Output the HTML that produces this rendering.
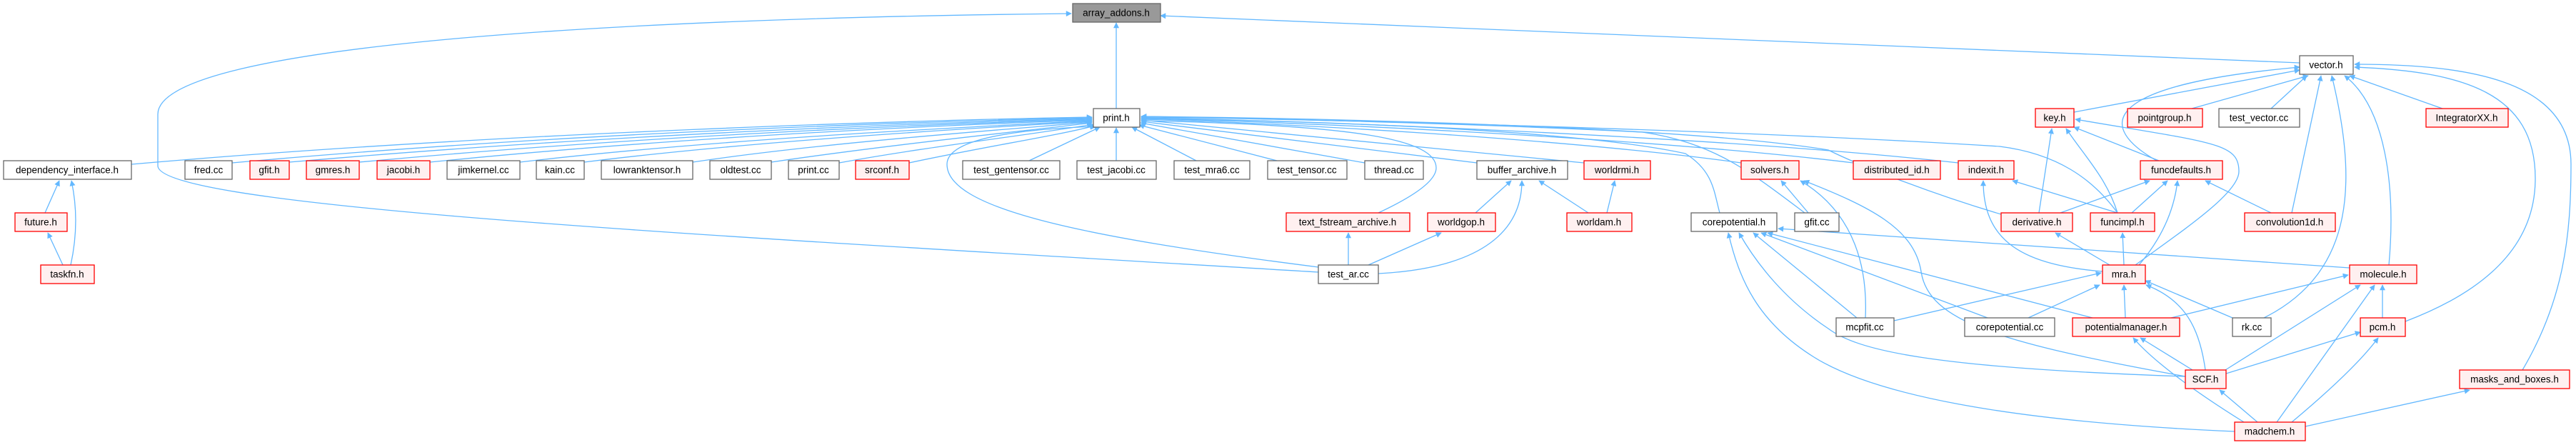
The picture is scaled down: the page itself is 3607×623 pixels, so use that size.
<!DOCTYPE html>
<html><head><meta charset="utf-8"><style>
html,body{margin:0;padding:0;background:#fff;}
svg{display:block;}
text{font-family:"Liberation Sans",sans-serif;font-size:13.5px;fill:#000;text-anchor:middle;dominant-baseline:central;}
.e{fill:none;stroke:#63b8ff;stroke-width:1.3;marker-end:url(#a);}
.n rect{fill:#fff;stroke:#666;stroke-width:1.3;}
.r rect{fill:#fff0f0;stroke:#ff0000;stroke-width:1.3;}
</style></head><body>
<svg width="3607" height="623" viewBox="0 0 3607 623" xmlns="http://www.w3.org/2000/svg">
<defs><marker id="a" viewBox="0 0 10 10" refX="9" refY="5" markerWidth="10" markerHeight="8" markerUnits="userSpaceOnUse" orient="auto"><path d="M0,0 L10,5 L0,10 z" fill="#63b8ff"/></marker></defs>
<g>
<!-- to array_addons -->
<path class="e" d="M1563,152 L1563,32"/>
<path class="e" d="M3220,88 L1625,22"/>
<path class="e" d="M1846,381 C1000,330 221,290 221,232 L221,160 C221,60 900,25 1500,19"/>
<!-- to print.h -->
<path class="e" d="M184,230 C700,185 1300,168 1529,164"/>
<path class="e" d="M325,228 C800,185 1300,170 1529,165"/>
<path class="e" d="M405,227 C850,188 1300,172 1529,166"/>
<path class="e" d="M503,227 C900,190 1300,174 1529,167"/>
<path class="e" d="M602,227 C950,192 1300,176 1529,168"/>
<path class="e" d="M728,227 C1000,195 1350,178 1529,169"/>
<path class="e" d="M818,227 C1050,198 1350,180 1529,170"/>
<path class="e" d="M970,227 C1150,200 1400,182 1529,171"/>
<path class="e" d="M1080,227 C1250,202 1420,185 1529,172"/>
<path class="e" d="M1175,228 C1300,205 1450,188 1530,174"/>
<path class="e" d="M1273,228 C1380,205 1480,190 1533,176"/>
<path class="e" d="M1441,225 L1540,178"/>
<path class="e" d="M1563,225 L1563,179"/>
<path class="e" d="M1675,225 L1585,178"/>
<path class="e" d="M1788,225 L1595,175"/>
<path class="e" d="M1911,228 L1597,172"/>
<path class="e" d="M2068,228 L1598,170"/>
<path class="e" d="M2218,228 L1598,168"/>
<path class="e" d="M2438,228 C2200,195 1800,172 1598,167"/>
<path class="e" d="M2595,228 C2300,192 1800,170 1598,166"/>
<path class="e" d="M2742,228 C2400,190 1800,168 1598,165"/>
<path class="e" d="M2965,298 C2930,250 2880,215 2800,205 C2400,180 1800,166 1598,164"/>
<path class="e" d="M2802,300 C2700,270 2600,230 2560,210 C2350,175 1800,165 1598,163"/>
<path class="e" d="M2527,298 C2450,240 2400,200 2300,185 C2000,170 1700,165 1598,163"/>
<path class="e" d="M2408,298 C2400,270 2400,240 2360,215 C2200,180 1800,168 1598,166"/>
<path class="e" d="M1930,298 C1990,270 2011,250 2011,235 C2011,195 1900,175 1598,169"/>
<path class="e" d="M1846,374 C1500,330 1326,290 1326,230 C1326,190 1450,180 1535,177"/>
<!-- archives -->
<path class="e" d="M1888,371 L1888,326"/>
<path class="e" d="M1916,371 L2018,326"/>
<path class="e" d="M1930,383 C2080,375 2131,320 2131,253"/>
<path class="e" d="M2066,298 L2116,253"/>
<path class="e" d="M2224,298 L2155,253"/>
<path class="e" d="M2250,298 L2261,253"/>
<!-- dependency -->
<path class="e" d="M63,298 L83,253"/>
<path class="e" d="M99,371 C108,330 108,290 100,253"/>
<path class="e" d="M88,371 L67,326"/>
<!-- vector -->
<path class="e" d="M2904,157 L3220,98"/>
<path class="e" d="M3020,225 C2940,180 2930,120 3220,94"/>
<path class="e" d="M3069,152 L3232,106"/>
<path class="e" d="M3180,152 L3230,106"/>
<path class="e" d="M3209,298 L3250,106"/>
<path class="e" d="M3420,152 L3290,106"/>
<path class="e" d="M3170,445 C3300,380 3300,250 3265,106"/>
<path class="e" d="M3345,371 C3355,260 3340,150 3283,106"/>
<path class="e" d="M3368,450 C3500,400 3550,330 3550,250 C3550,130 3450,100 3297,94"/>
<path class="e" d="M3532,518 C3590,420 3600,330 3600,230 C3600,110 3450,90 3297,90"/>
<!-- key -->
<path class="e" d="M2855,298 L2873,180"/>
<path class="e" d="M2965,298 C2950,250 2920,220 2893,180"/>
<path class="e" d="M3023,225 L2904,178"/>
<path class="e" d="M2990,371 C3060,320 3135,270 3135,240 C3135,200 3100,200 2906,167"/>
<!-- funcdefaults -->
<path class="e" d="M2885,298 L3010,253"/>
<path class="e" d="M2985,298 L3035,253"/>
<path class="e" d="M2995,371 C3030,330 3045,290 3049,253"/>
<path class="e" d="M3180,298 L3088,253"/>
<!-- indexit -->
<path class="e" d="M2965,298 L2818,253"/>
<path class="e" d="M2944,380 C2820,370 2777,330 2777,253"/>
<!-- mra -> derivative/funcimpl -->
<path class="e" d="M2954,371 L2878,326"/>
<path class="e" d="M2974,371 L2972,326"/>
<!-- solvers -->
<path class="e" d="M2532,298 L2494,253"/>
<path class="e" d="M2612,445 C2615,380 2600,300 2521,253"/>
<path class="e" d="M3060,527 C2800,480 2700,450 2690,380 C2680,320 2620,290 2526,253"/>
<!-- corepotential.h -->
<path class="e" d="M3290,375 L2490,320"/>
<path class="e" d="M2600,445 L2455,326"/>
<path class="e" d="M2783,445 L2466,326"/>
<path class="e" d="M2930,445 L2475,326"/>
<path class="e" d="M3060,527 C2700,515 2600,490 2560,460 C2500,420 2460,370 2435,326"/>
<path class="e" d="M3129,604 C2800,590 2620,550 2540,500 C2460,450 2435,390 2420,326"/>
<!-- mra -->
<path class="e" d="M2652,449 L2942,382"/>
<path class="e" d="M2840,445 L2940,399"/>
<path class="e" d="M2976,445 L2974,399"/>
<path class="e" d="M3126,445 L3004,393"/>
<path class="e" d="M3088,518 C3080,460 3060,420 3005,399"/>
<!-- molecule -->
<path class="e" d="M3040,445 L3288,385"/>
<path class="e" d="M3116,518 L3305,399"/>
<path class="e" d="M3336,445 L3336,399"/>
<path class="e" d="M3188,591 L3325,399"/>
<!-- potentialmanager -->
<path class="e" d="M3070,518 L2997,473"/>
<path class="e" d="M3142,591 C3060,540 3010,500 2987,473"/>
<!-- pcm -->
<path class="e" d="M3117,523 L3305,465"/>
<path class="e" d="M3209,591 C3270,540 3310,500 3330,473"/>
<!-- SCF / masks -->
<path class="e" d="M3161,591 L3108,546"/>
<path class="e" d="M3228,597 L3458,546"/>
</g>
<!-- nodes -->
<g><rect x="1502" y="5" width="123" height="26" fill="#999" stroke="#666" stroke-width="1.3"/><text x="1563" y="18">array_addons.h</text></g>
<g class="n"><rect x="3220" y="78" width="75" height="26"/><text x="3257" y="91">vector.h</text></g>
<g class="n"><rect x="1531" y="152" width="65" height="26"/><text x="1563" y="165">print.h</text></g>
<g class="r"><rect x="2850" y="152" width="54" height="26"/><text x="2877" y="165">key.h</text></g>
<g class="r"><rect x="2979" y="152" width="105" height="26"/><text x="3031" y="165">pointgroup.h</text></g>
<g class="n"><rect x="3107" y="152" width="113" height="26"/><text x="3163" y="165">test_vector.cc</text></g>
<g class="r"><rect x="3397" y="152" width="115" height="26"/><text x="3454" y="165">IntegratorXX.h</text></g>
<g class="n"><rect x="5" y="225" width="179" height="26"/><text x="94" y="238">dependency_interface.h</text></g>
<g class="n"><rect x="259" y="225" width="66" height="26"/><text x="292" y="238">fred.cc</text></g>
<g class="r"><rect x="350" y="225" width="55" height="26"/><text x="377" y="238">gfit.h</text></g>
<g class="r"><rect x="429" y="225" width="74" height="26"/><text x="466" y="238">gmres.h</text></g>
<g class="r"><rect x="528" y="225" width="74" height="26"/><text x="565" y="238">jacobi.h</text></g>
<g class="n"><rect x="626" y="225" width="102" height="26"/><text x="677" y="238">jimkernel.cc</text></g>
<g class="n"><rect x="751" y="225" width="67" height="26"/><text x="784" y="238">kain.cc</text></g>
<g class="n"><rect x="842" y="225" width="128" height="26"/><text x="906" y="238">lowranktensor.h</text></g>
<g class="n"><rect x="994" y="225" width="86" height="26"/><text x="1037" y="238">oldtest.cc</text></g>
<g class="n"><rect x="1104" y="225" width="71" height="26"/><text x="1139" y="238">print.cc</text></g>
<g class="r"><rect x="1198" y="225" width="75" height="26"/><text x="1235" y="238">srconf.h</text></g>
<g class="n"><rect x="1348" y="225" width="136" height="26"/><text x="1416" y="238">test_gentensor.cc</text></g>
<g class="n"><rect x="1508" y="225" width="111" height="26"/><text x="1563" y="238">test_jacobi.cc</text></g>
<g class="n"><rect x="1644" y="225" width="106" height="26"/><text x="1697" y="238">test_mra6.cc</text></g>
<g class="n"><rect x="1775" y="225" width="111" height="26"/><text x="1830" y="238">test_tensor.cc</text></g>
<g class="n"><rect x="1911" y="225" width="82" height="26"/><text x="1952" y="238">thread.cc</text></g>
<g class="n"><rect x="2068" y="225" width="127" height="26"/><text x="2131" y="238">buffer_archive.h</text></g>
<g class="r"><rect x="2218" y="225" width="93" height="26"/><text x="2264" y="238">worldrmi.h</text></g>
<g class="r"><rect x="2438" y="225" width="81" height="26"/><text x="2478" y="238">solvers.h</text></g>
<g class="r"><rect x="2595" y="225" width="122" height="26"/><text x="2656" y="238">distributed_id.h</text></g>
<g class="r"><rect x="2742" y="225" width="78" height="26"/><text x="2781" y="238">indexit.h</text></g>
<g class="r"><rect x="2997" y="225" width="115" height="26"/><text x="3054" y="238">funcdefaults.h</text></g>
<g class="r"><rect x="21" y="298" width="73" height="26"/><text x="57" y="311">future.h</text></g>
<g class="r"><rect x="1801" y="298" width="173" height="26"/><text x="1887" y="311">text_fstream_archive.h</text></g>
<g class="r"><rect x="1999" y="298" width="95" height="26"/><text x="2046" y="311">worldgop.h</text></g>
<g class="r"><rect x="2194" y="298" width="91" height="26"/><text x="2239" y="311">worldam.h</text></g>
<g class="n"><rect x="2368" y="298" width="120" height="26"/><text x="2428" y="311">corepotential.h</text></g>
<g class="n"><rect x="2513" y="298" width="62" height="26"/><text x="2544" y="311">gfit.cc</text></g>
<g class="r"><rect x="2802" y="298" width="100" height="26"/><text x="2852" y="311">derivative.h</text></g>
<g class="r"><rect x="2927" y="298" width="90" height="26"/><text x="2972" y="311">funcimpl.h</text></g>
<g class="r"><rect x="3143" y="298" width="127" height="26"/><text x="3206" y="311">convolution1d.h</text></g>
<g class="r"><rect x="57" y="371" width="75" height="26"/><text x="94" y="384">taskfn.h</text></g>
<g class="n"><rect x="1846" y="371" width="84" height="26"/><text x="1888" y="384">test_ar.cc</text></g>
<g class="r"><rect x="2944" y="371" width="60" height="26"/><text x="2974" y="384">mra.h</text></g>
<g class="r"><rect x="3290" y="371" width="94" height="26"/><text x="3337" y="384">molecule.h</text></g>
<g class="n"><rect x="2571" y="445" width="81" height="26"/><text x="2611" y="458">mcpfit.cc</text></g>
<g class="n"><rect x="2751" y="445" width="126" height="26"/><text x="2814" y="458">corepotential.cc</text></g>
<g class="r"><rect x="2902" y="445" width="150" height="26"/><text x="2977" y="458">potentialmanager.h</text></g>
<g class="n"><rect x="3126" y="445" width="54" height="26"/><text x="3153" y="458">rk.cc</text></g>
<g class="r"><rect x="3305" y="445" width="63" height="26"/><text x="3336" y="458">pcm.h</text></g>
<g class="r"><rect x="3060" y="518" width="57" height="26"/><text x="3088" y="531">SCF.h</text></g>
<g class="r"><rect x="3444" y="518" width="154" height="26"/><text x="3521" y="531">masks_and_boxes.h</text></g>
<g class="r"><rect x="3129" y="591" width="99" height="26"/><text x="3178" y="604">madchem.h</text></g>
</svg>
</body></html>
